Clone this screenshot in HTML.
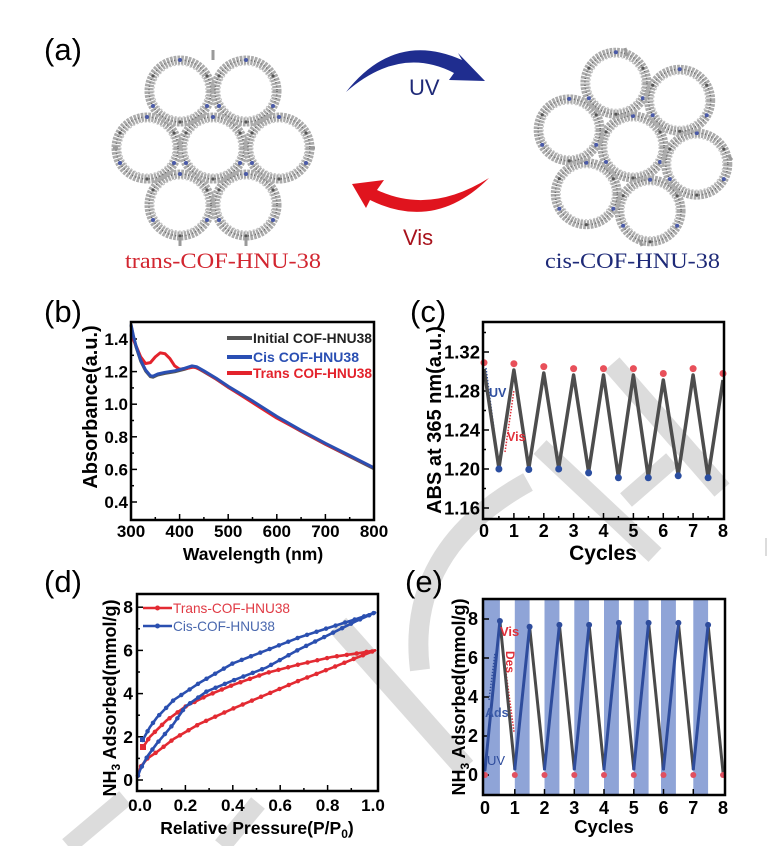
<!DOCTYPE html>
<html>
<head>
<meta charset="utf-8">
<style>
  html,body{margin:0;padding:0;background:#fff;}
  svg{display:block;}
  text{font-family:"Liberation Sans",Arial,sans-serif;}
  .b{font-weight:bold;}
  .serif{font-family:"Liberation Serif","Times New Roman",serif;}
</style>
</head>
<body>
<svg width="768" height="846" viewBox="0 0 768 846" xmlns="http://www.w3.org/2000/svg">
  <defs>
    <g id="ring">
      <circle cx="0" cy="0" r="31" fill="none" stroke="#ababab" stroke-width="9" stroke-dasharray="2.5 1"/>
      <circle cx="0" cy="0" r="31" fill="none" stroke="#666" stroke-width="1.5" stroke-dasharray="1 2.5"/>
      <circle cx="0" cy="0" r="26" fill="none" stroke="#c4c4c4" stroke-width="1" stroke-dasharray="2 2"/>
      <circle cx="0" cy="-31" r="2" fill="#4a5aa8"/>
      <circle cx="27" cy="15" r="2" fill="#4a5aa8"/>
      <circle cx="-27" cy="15" r="2" fill="#4a5aa8"/>
      <circle cx="27" cy="-15" r="1.6" fill="#555"/>
      <circle cx="-27" cy="-15" r="1.6" fill="#555"/>
      <circle cx="0" cy="31" r="1.6" fill="#555"/>
    </g>
  </defs>

  <!-- watermark -->
  <g stroke="#dcdcdc" fill="none" stroke-linecap="butt">
    <line x1="612" y1="364" x2="722" y2="490" stroke-width="20"/>
    <line x1="540" y1="447" x2="655" y2="555" stroke-width="19"/>
    <line x1="626" y1="500" x2="672" y2="460" stroke-width="18"/>
    <path d="M528,482 Q405,550 420,670" stroke-width="20"/>
    <line x1="338" y1="625" x2="465" y2="768" stroke-width="22"/>
    <line x1="68" y1="846" x2="125" y2="798" stroke-width="18"/>
    <line x1="222" y1="846" x2="258" y2="803" stroke-width="18"/>
    <line x1="766" y1="538" x2="766" y2="556" stroke-width="2"/>
  </g>

  <!-- ===== Panel (a) ===== -->
  <text x="44" y="60" font-size="31">(a)</text>
  <g>
    <use href="#ring" x="213" y="148"/>
    <use href="#ring" x="279" y="148"/>
    <use href="#ring" x="246" y="205"/>
    <use href="#ring" x="180" y="205"/>
    <use href="#ring" x="147" y="148"/>
    <use href="#ring" x="180" y="91"/>
    <use href="#ring" x="246" y="91"/>
    <g stroke="#9a9a9a" stroke-width="3">
      <line x1="213" y1="50" x2="213" y2="60"/>
      <line x1="180" y1="238" x2="180" y2="246"/>
      <line x1="246" y1="238" x2="246" y2="246"/>
      <line x1="113" y1="148" x2="118" y2="148"/>
      <line x1="310" y1="148" x2="315" y2="148"/>
    </g>
  </g>
  <g>
    <use href="#ring" x="633" y="147"/>
    <use href="#ring" x="696.8" y="164.1"/>
    <use href="#ring" x="650.1" y="210.8"/>
    <use href="#ring" x="586.3" y="193.7"/>
    <use href="#ring" x="569.2" y="129.9"/>
    <use href="#ring" x="615.9" y="83.2"/>
    <use href="#ring" x="679.7" y="100.3"/>
    <g stroke="#9a9a9a" stroke-width="3">
      <line x1="625" y1="48" x2="627" y2="56"/>
      <line x1="728" y1="155" x2="732" y2="160"/>
      <line x1="640" y1="240" x2="642" y2="246"/>
    </g>
  </g>
  <!-- UV arrow -->
  <path d="M346,92 Q395,30 462,60 L458,53 L485,81 L449,80 L454,73 Q400,45 346,92 Z" fill="#1f2d8f"/>
  <text x="409" y="95" font-size="22" fill="#1f2a78">UV</text>
  <!-- Vis arrow -->
  <path d="M489,178 Q435,232 370,200 L366,208 L352,184 L384,180 L377,190 Q430,215 489,178 Z" fill="#e0141e"/>
  <text x="403" y="245" font-size="22" fill="#a8121c">Vis</text>
  <text x="125" y="268" font-size="22.5" class="serif" fill="#d22630" textLength="196" lengthAdjust="spacingAndGlyphs">trans-COF-HNU-38</text>
  <text x="545" y="268" font-size="22.5" class="serif" fill="#1e2a78" textLength="175" lengthAdjust="spacingAndGlyphs">cis-COF-HNU-38</text>

  <!-- ===== Panel (b) ===== -->
  <text x="44" y="322" font-size="31">(b)</text>
  <g stroke="#000" stroke-width="1.5">
    <line x1="131" y1="520" x2="131" y2="514"/><line x1="179.6" y1="520" x2="179.6" y2="514"/>
    <line x1="228.2" y1="520" x2="228.2" y2="514"/><line x1="276.8" y1="520" x2="276.8" y2="514"/>
    <line x1="325.4" y1="520" x2="325.4" y2="514"/>
    <line x1="155.3" y1="520" x2="155.3" y2="517"/><line x1="203.9" y1="520" x2="203.9" y2="517"/>
    <line x1="252.5" y1="520" x2="252.5" y2="517"/><line x1="301.1" y1="520" x2="301.1" y2="517"/>
    <line x1="349.7" y1="520" x2="349.7" y2="517"/>
    <line x1="131" y1="502" x2="137" y2="502"/><line x1="131" y1="469.4" x2="137" y2="469.4"/>
    <line x1="131" y1="436.8" x2="137" y2="436.8"/><line x1="131" y1="404.2" x2="137" y2="404.2"/>
    <line x1="131" y1="371.6" x2="137" y2="371.6"/><line x1="131" y1="339" x2="137" y2="339"/>
    <line x1="131" y1="485.7" x2="134" y2="485.7"/><line x1="131" y1="453.1" x2="134" y2="453.1"/>
    <line x1="131" y1="420.5" x2="134" y2="420.5"/><line x1="131" y1="387.9" x2="134" y2="387.9"/>
    <line x1="131" y1="355.3" x2="134" y2="355.3"/>
  </g>
  <polyline fill="none" stroke="#555" stroke-width="3" stroke-linejoin="round" points="131,325.3 133.4,336.7 135.9,346.5 140.7,361.2 145.6,371 150.4,376.7 152.9,377.2 157.7,375 165,373.4 174.7,371.8 184.5,369.3 191.8,366.9 196.6,367.7 203.9,371.8 216.1,379.1 228.2,387.3 252.5,401.9 276.8,417.4 301.1,431.3 325.4,444.3 349.7,456.5 374,468.8"/>
  <polyline fill="none" stroke="#e3232c" stroke-width="3" stroke-linejoin="round" points="131,334.1 135.9,345.5 140.7,356.9 145.6,363.5 150.4,362.6 155.3,356.9 160.2,352.9 165,353.7 169.9,358.6 174.7,365.9 179.6,369.2 186.9,368.3 194.2,367 201.5,370 216.1,378.9 228.2,387.1 252.5,402.6 276.8,418.1 301.1,431.1 325.4,444.1 349.7,456 374,467.8"/>
  <polyline fill="none" stroke="#2a4fb3" stroke-width="3" stroke-linejoin="round" points="131,324.3 133.4,335.7 135.9,345.5 140.7,360.2 145.6,370 150.4,375.7 152.9,376.2 157.7,374 165,372.4 174.7,370.8 184.5,368.3 191.8,365.9 196.6,366.7 203.9,370.8 216.1,378.1 228.2,386.3 252.5,400.9 276.8,416.4 301.1,430.3 325.4,443.3 349.7,455.5 374,467.8"/>
  <rect x="131" y="322" width="243" height="198" fill="none" stroke="#000" stroke-width="2.5"/>
  <line x1="227" y1="338" x2="252" y2="338" stroke="#555" stroke-width="4"/>
  <line x1="227" y1="357" x2="252" y2="357" stroke="#2a4fb3" stroke-width="4"/>
  <line x1="227" y1="373" x2="252" y2="373" stroke="#e3232c" stroke-width="4"/>
  <text x="253" y="343" font-size="14" class="b" fill="#222" textLength="119" lengthAdjust="spacingAndGlyphs">Initial COF-HNU38</text>
  <text x="253" y="362" font-size="14" class="b" fill="#2a4fb3" textLength="106" lengthAdjust="spacingAndGlyphs">Cis COF-HNU38</text>
  <text x="253" y="378" font-size="14" class="b" fill="#e3232c" textLength="119" lengthAdjust="spacingAndGlyphs">Trans COF-HNU38</text>
  <g font-size="17" class="b" text-anchor="end">
    <text x="128" y="345">1.4</text><text x="128" y="377.6">1.2</text>
    <text x="128" y="410.2">1.0</text><text x="128" y="442.8">0.8</text>
    <text x="128" y="475.4">0.6</text><text x="128" y="508">0.4</text>
  </g>
  <g font-size="17" class="b" text-anchor="middle">
    <text x="131" y="537">300</text><text x="179.6" y="537">400</text>
    <text x="228.2" y="537">500</text><text x="276.8" y="537">600</text>
    <text x="325.4" y="537">700</text><text x="374" y="537">800</text>
  </g>
  <text x="253" y="560" font-size="17.5" class="b" text-anchor="middle">Wavelength (nm)</text>
  <text transform="translate(97,407) rotate(-90)" font-size="20" class="b" text-anchor="middle">Absorbance(a.u.)</text>

  <!-- ===== Panel (c) ===== -->
  <text x="410" y="322" font-size="31">(c)</text>
  <g stroke="#000" stroke-width="1.5">
    <line x1="513.9" y1="519" x2="513.9" y2="513"/><line x1="543.8" y1="519" x2="543.8" y2="513"/>
    <line x1="573.6" y1="519" x2="573.6" y2="513"/><line x1="603.5" y1="519" x2="603.5" y2="513"/>
    <line x1="633.4" y1="519" x2="633.4" y2="513"/><line x1="663.3" y1="519" x2="663.3" y2="513"/>
    <line x1="693.1" y1="519" x2="693.1" y2="513"/>
    <line x1="498.9" y1="519" x2="498.9" y2="516"/><line x1="528.8" y1="519" x2="528.8" y2="516"/>
    <line x1="558.7" y1="519" x2="558.7" y2="516"/><line x1="588.6" y1="519" x2="588.6" y2="516"/>
    <line x1="618.4" y1="519" x2="618.4" y2="516"/><line x1="648.3" y1="519" x2="648.3" y2="516"/>
    <line x1="678.2" y1="519" x2="678.2" y2="516"/><line x1="708.1" y1="519" x2="708.1" y2="516"/>
    <line x1="483" y1="508" x2="489" y2="508"/><line x1="483" y1="469" x2="489" y2="469"/>
    <line x1="483" y1="430" x2="489" y2="430"/><line x1="483" y1="391" x2="489" y2="391"/>
    <line x1="483" y1="352" x2="489" y2="352"/>
    <line x1="483" y1="488.5" x2="486" y2="488.5"/><line x1="483" y1="449.5" x2="486" y2="449.5"/>
    <line x1="483" y1="410.5" x2="486" y2="410.5"/><line x1="483" y1="371.5" x2="486" y2="371.5"/>
    <line x1="483" y1="332.5" x2="486" y2="332.5"/>
  </g>
  <line x1="486" y1="368" x2="496" y2="445" stroke="#3050a0" stroke-width="1.5" stroke-dasharray="1.5 1.5"/>
  <line x1="505" y1="452" x2="514" y2="390" stroke="#e0303a" stroke-width="1.5" stroke-dasharray="1.5 1.5"/>
  <polyline fill="none" stroke="#4d4d4d" stroke-width="3.5" stroke-linejoin="round" points="484,369 498.9,468 513.9,370 528.8,468.5 543.8,373 558.7,468 573.6,375 588.6,472 603.5,375 618.4,477 633.4,375 648.3,477 663.3,380 678.2,475 693.1,375 708.1,477 723,380"/>
  <g fill="#e8505a">
    <circle cx="484" cy="362.7" r="3.5"/><circle cx="513.9" cy="363.7" r="3.5"/>
    <circle cx="543.8" cy="366.6" r="3.5"/><circle cx="573.6" cy="368.6" r="3.5"/>
    <circle cx="603.5" cy="368.6" r="3.5"/><circle cx="633.4" cy="368.6" r="3.5"/>
    <circle cx="663.3" cy="373.5" r="3.5"/><circle cx="693.1" cy="368.6" r="3.5"/>
    <circle cx="723" cy="373.5" r="3.5"/>
  </g>
  <g fill="#2b4ea0">
    <circle cx="498.9" cy="469" r="3.5"/><circle cx="528.8" cy="469.5" r="3.5"/>
    <circle cx="558.7" cy="469" r="3.5"/><circle cx="588.6" cy="472.9" r="3.5"/>
    <circle cx="618.4" cy="477.8" r="3.5"/><circle cx="648.3" cy="477.8" r="3.5"/>
    <circle cx="678.2" cy="475.8" r="3.5"/><circle cx="708.1" cy="477.8" r="3.5"/>
  </g>
  <text x="489" y="397" font-size="12.5" class="b" fill="#3050a0">UV</text>
  <text x="507" y="441" font-size="12.5" class="b" fill="#e0303a">Vis</text>
  <rect x="483" y="322" width="241" height="197" fill="none" stroke="#000" stroke-width="2.5"/>
  <g font-size="18.5" class="b" text-anchor="end">
    <text x="480" y="358.5">1.32</text><text x="480" y="397.5">1.28</text>
    <text x="480" y="436.5">1.24</text><text x="480" y="475.5">1.20</text>
    <text x="480" y="514.5">1.16</text>
  </g>
  <g font-size="18" class="b" text-anchor="middle">
    <text x="484" y="537">0</text><text x="513.9" y="537">1</text><text x="543.8" y="537">2</text>
    <text x="573.6" y="537">3</text><text x="603.5" y="537">4</text><text x="633.4" y="537">5</text>
    <text x="663.3" y="537">6</text><text x="693.1" y="537">7</text><text x="723" y="537">8</text>
  </g>
  <text x="603" y="560" font-size="21" class="b" text-anchor="middle">Cycles</text>
  <text transform="translate(441,420) rotate(-90)" font-size="20" class="b" text-anchor="middle">ABS at 365 nm(a.u.)</text>

  <!-- ===== Panel (d) ===== -->
  <text x="44" y="592" font-size="31">(d)</text>
  <g stroke="#000" stroke-width="1.5">
    <line x1="185.4" y1="791" x2="185.4" y2="785"/><line x1="232.8" y1="791" x2="232.8" y2="785"/>
    <line x1="280.2" y1="791" x2="280.2" y2="785"/><line x1="327.6" y1="791" x2="327.6" y2="785"/>
    <line x1="161.7" y1="791" x2="161.7" y2="788"/><line x1="209.1" y1="791" x2="209.1" y2="788"/>
    <line x1="256.5" y1="791" x2="256.5" y2="788"/><line x1="303.9" y1="791" x2="303.9" y2="788"/>
    <line x1="351.3" y1="791" x2="351.3" y2="788"/>
    <line x1="137" y1="780" x2="143" y2="780"/><line x1="137" y1="736.8" x2="143" y2="736.8"/>
    <line x1="137" y1="693.6" x2="143" y2="693.6"/><line x1="137" y1="650.4" x2="143" y2="650.4"/>
    <line x1="137" y1="607.2" x2="143" y2="607.2"/>
    <line x1="137" y1="758.4" x2="140" y2="758.4"/><line x1="137" y1="715.2" x2="140" y2="715.2"/>
    <line x1="137" y1="672" x2="140" y2="672"/><line x1="137" y1="628.8" x2="140" y2="628.8"/>
  </g>
  <g fill="none" stroke-linejoin="round" stroke-linecap="round">
    <polyline stroke="#e32a32" stroke-width="2.6" points="142.7,747.6 149.9,736.8 166.4,720.6 185.4,706.6 206.7,695.8 232.8,685 266,673.1 299.2,664.4 332.3,656.9 356,653.6 375,650.4"/>
    <polyline stroke="#e32a32" stroke-width="2.6" points="138,775.7 140.4,767 147.5,758.4 157,751.9 173.6,739 199.6,723.8 232.8,708.7 266,694.7 299.2,680.6 332.3,667.7 356,658 375,650.4"/>
    <polyline stroke="#e32a32" stroke-width="4.5" stroke-dasharray="0 10" points="142.7,747.6 149.9,736.8 166.4,720.6 185.4,706.6 206.7,695.8 232.8,685 266,673.1 299.2,664.4 332.3,656.9 356,653.6 375,650.4"/>
    <polyline stroke="#e32a32" stroke-width="4.5" stroke-dasharray="0 10" points="138,775.7 140.4,767 147.5,758.4 157,751.9 173.6,739 199.6,723.8 232.8,708.7 266,694.7 299.2,680.6 332.3,667.7 356,658 375,650.4"/>
    <polyline stroke="#2a4fb0" stroke-width="2.6" points="142.7,740 149.9,727.1 157,717.4 173.6,700.1 199.6,682.8 232.8,663.4 266,650.4 299.2,637.4 332.3,626.6 356,619.1 375,612.6"/>
    <polyline stroke="#2a4fb0" stroke-width="2.6" points="138,775.7 140.4,769.2 147.5,756.2 157,743.3 173.6,723.8 185.4,706.6 206.7,691.4 232.8,680.6 266,667.7 299.2,649.3 332.3,633.1 356,621.2 375,612.6"/>
    <polyline stroke="#2a4fb0" stroke-width="4.5" stroke-dasharray="0 10" points="142.7,740 149.9,727.1 157,717.4 173.6,700.1 199.6,682.8 232.8,663.4 266,650.4 299.2,637.4 332.3,626.6 356,619.1 375,612.6"/>
    <polyline stroke="#2a4fb0" stroke-width="4.5" stroke-dasharray="0 10" points="138,775.7 140.4,769.2 147.5,756.2 157,743.3 173.6,723.8 185.4,706.6 206.7,691.4 232.8,680.6 266,667.7 299.2,649.3 332.3,633.1 356,621.2 375,612.6"/>
  </g>
  <rect x="140" y="744" width="6" height="6" fill="#e32a32"/>
  <rect x="140" y="737" width="5" height="5" fill="#2a4fb0"/>
  <rect x="137" y="594" width="241" height="197" fill="none" stroke="#000" stroke-width="2.5"/>
  <line x1="143" y1="608" x2="172" y2="608" stroke="#e32a32" stroke-width="2.6"/>
  <circle cx="157.5" cy="608" r="2.5" fill="#e32a32"/>
  <line x1="143" y1="626" x2="172" y2="626" stroke="#2a4fb0" stroke-width="2.6"/>
  <circle cx="157.5" cy="626" r="2.5" fill="#2a4fb0"/>
  <text x="173" y="613" font-size="14" fill="#e03a44" textLength="117" lengthAdjust="spacingAndGlyphs">Trans-COF-HNU38</text>
  <text x="173" y="631" font-size="14" fill="#4a68ae" textLength="102" lengthAdjust="spacingAndGlyphs">Cis-COF-HNU38</text>
  <g font-size="17.5" class="b" text-anchor="end">
    <text x="133" y="786">0</text><text x="133" y="742.8">2</text>
    <text x="133" y="699.6">4</text><text x="133" y="656.4">6</text>
    <text x="133" y="613.2">8</text>
  </g>
  <g font-size="17" class="b" text-anchor="middle">
    <text x="140" y="811">0.0</text><text x="185.4" y="811">0.2</text>
    <text x="232.8" y="811">0.4</text><text x="280.2" y="811">0.6</text>
    <text x="327.6" y="811">0.8</text><text x="373" y="811">1.0</text>
  </g>
  <text x="257" y="834" font-size="17.5" class="b" text-anchor="middle">Relative Pressure(P/P<tspan font-size="12" dy="4">0</tspan><tspan dy="-4">)</tspan></text>
  <text transform="translate(116,698) rotate(-90)" font-size="18" class="b" text-anchor="middle">NH<tspan font-size="12" dy="4">3</tspan><tspan dy="-4"> Adsorbed(mmol/g)</tspan></text>

  <!-- ===== Panel (e) ===== -->
  <text x="405" y="592" font-size="31">(e)</text>
  <g fill="#8fa4d7">
    <rect x="484" y="600" width="15.9" height="194"/>
    <rect x="514.8" y="600" width="14.8" height="194"/>
    <rect x="544.5" y="600" width="14.9" height="194"/>
    <rect x="574.3" y="600" width="14.8" height="194"/>
    <rect x="604" y="600" width="14.9" height="194"/>
    <rect x="633.8" y="600" width="14.8" height="194"/>
    <rect x="661" y="600" width="14.9" height="194"/>
    <rect x="693.3" y="600" width="14.8" height="194"/>
  </g>
  <g stroke="#000" stroke-width="1.5">
    <line x1="514.8" y1="795" x2="514.8" y2="789"/><line x1="544.5" y1="795" x2="544.5" y2="789"/>
    <line x1="574.3" y1="795" x2="574.3" y2="789"/><line x1="604" y1="795" x2="604" y2="789"/>
    <line x1="633.8" y1="795" x2="633.8" y2="789"/><line x1="663.5" y1="795" x2="663.5" y2="789"/>
    <line x1="693.3" y1="795" x2="693.3" y2="789"/>
    <line x1="483" y1="775" x2="489" y2="775"/><line x1="483" y1="736" x2="489" y2="736"/>
    <line x1="483" y1="697" x2="489" y2="697"/><line x1="483" y1="658" x2="489" y2="658"/>
    <line x1="483" y1="619" x2="489" y2="619"/>
  </g>
  <line x1="489" y1="700" x2="495" y2="653" stroke="#2e4c9c" stroke-width="1.5" stroke-dasharray="1.5 1.5"/>
  <line x1="503" y1="650" x2="514" y2="732" stroke="#e0303a" stroke-width="1.5" stroke-dasharray="1.5 1.5"/>
  <g fill="none" stroke-width="3" stroke-linecap="round">
    <g stroke="#4a4a4a">
      <line x1="499.9" y1="621" x2="514.8" y2="769"/>
      <line x1="529.6" y1="626.8" x2="544.5" y2="769"/>
      <line x1="559.4" y1="624.9" x2="574.3" y2="769"/>
      <line x1="589.1" y1="624.9" x2="604" y2="769"/>
      <line x1="618.9" y1="622.9" x2="633.8" y2="769"/>
      <line x1="648.6" y1="622.9" x2="663.5" y2="769"/>
      <line x1="678.4" y1="622.9" x2="693.3" y2="769"/>
      <line x1="708.1" y1="624.9" x2="723" y2="772"/>
    </g>
    <g stroke="#2e4c9c">
      <line x1="485" y1="770" x2="499.9" y2="621"/>
      <line x1="514.8" y1="769" x2="529.6" y2="626.8"/>
      <line x1="544.5" y1="769" x2="559.4" y2="624.9"/>
      <line x1="574.3" y1="769" x2="589.1" y2="624.9"/>
      <line x1="604" y1="769" x2="618.9" y2="622.9"/>
      <line x1="633.8" y1="769" x2="648.6" y2="622.9"/>
      <line x1="663.5" y1="769" x2="678.4" y2="622.9"/>
      <line x1="693.3" y1="769" x2="708.1" y2="624.9"/>
    </g>
  </g>
  <g fill="#e05060">
    <circle cx="485" cy="775" r="3"/><circle cx="514.8" cy="775" r="3"/><circle cx="544.5" cy="775" r="3"/>
    <circle cx="574.3" cy="775" r="3"/><circle cx="604" cy="775" r="3"/><circle cx="633.8" cy="775" r="3"/>
    <circle cx="663.5" cy="775" r="3"/><circle cx="693.3" cy="775" r="3"/><circle cx="723" cy="775" r="3"/>
  </g>
  <g fill="#2e4c9c">
    <circle cx="499.9" cy="621" r="3"/><circle cx="529.6" cy="626.8" r="3"/><circle cx="559.4" cy="624.9" r="3"/>
    <circle cx="589.1" cy="624.9" r="3"/><circle cx="618.9" cy="622.9" r="3"/><circle cx="648.6" cy="622.9" r="3"/>
    <circle cx="678.4" cy="622.9" r="3"/><circle cx="708.1" cy="624.9" r="3"/>
  </g>
  <text x="500" y="636" font-size="13" class="b" fill="#e0303a">Vis</text>
  <text transform="translate(506,651) rotate(90)" font-size="12" class="b" fill="#e0303a">Des</text>
  <text x="485" y="717" font-size="12.5" class="b" fill="#3a5aa8">Ads</text>
  <text x="487" y="765" font-size="13" fill="#2e4c9c">UV</text>
  <rect x="483" y="599" width="242" height="196" fill="none" stroke="#000" stroke-width="2.5"/>
  <g font-size="18" class="b" text-anchor="end">
    <text x="478" y="781">0</text><text x="478" y="742">2</text>
    <text x="478" y="703">4</text><text x="478" y="664">6</text>
    <text x="478" y="625">8</text>
  </g>
  <g font-size="18" class="b" text-anchor="middle">
    <text x="485" y="814">0</text><text x="514.8" y="814">1</text><text x="544.5" y="814">2</text>
    <text x="574.3" y="814">3</text><text x="604" y="814">4</text><text x="633.8" y="814">5</text>
    <text x="663.5" y="814">6</text><text x="693.3" y="814">7</text><text x="723" y="814">8</text>
  </g>
  <text x="604" y="833" font-size="18.5" class="b" text-anchor="middle">Cycles</text>
  <text transform="translate(465,697) rotate(-90)" font-size="18" class="b" text-anchor="middle">NH<tspan font-size="12" dy="4">3</tspan><tspan dy="-4"> Adsorbed(mmol/g)</tspan></text>
</svg>
</body>
</html>
